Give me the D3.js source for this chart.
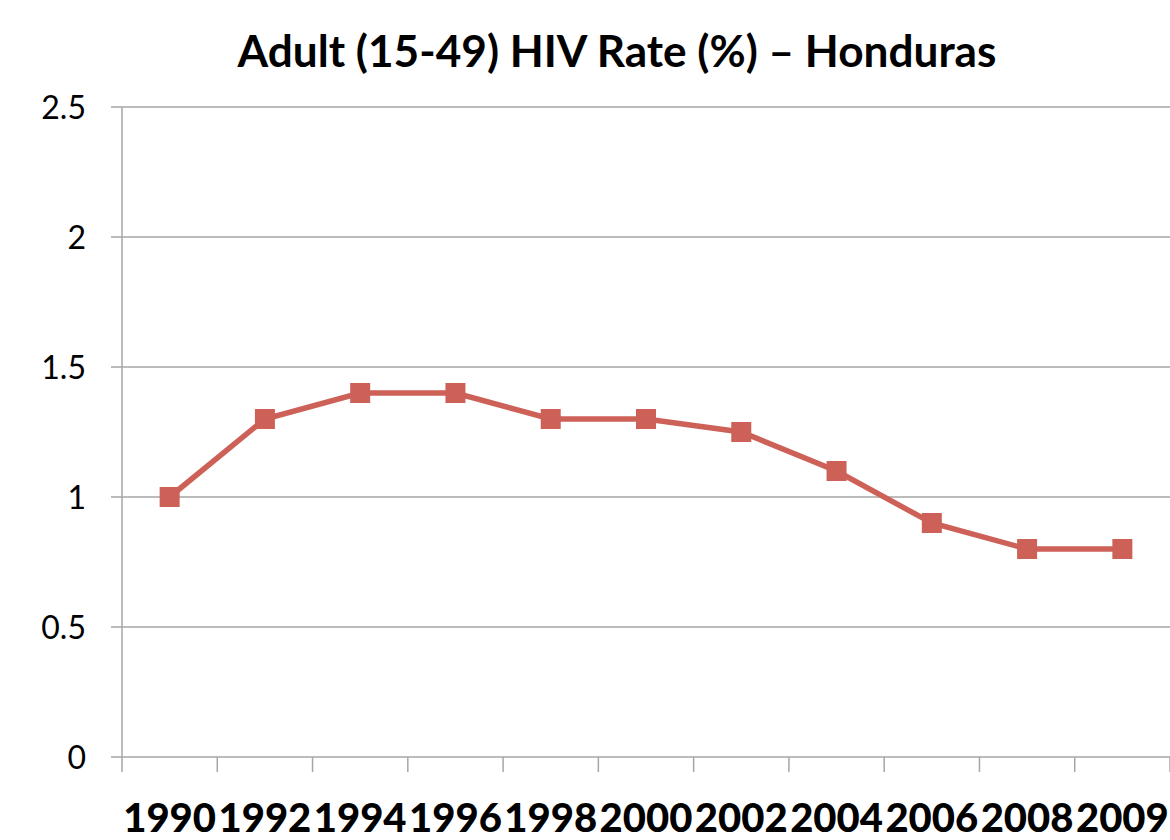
<!DOCTYPE html>
<html>
<head>
<meta charset="utf-8">
<script src="https://cdnjs.cloudflare.com/ajax/libs/d3/7.8.5/d3.min.js"></script>
<style>
  body { margin: 0; background: #fff; }
  svg { display: block; font-family: Lato, "Open Sans", sans-serif; }
</style>
</head>
<body>
<div id="chart"></div>
<script>
// data
var years = ["1990", "1992", "1994", "1996", "1998", "2000", "2002", "2004", "2006", "2008", "2009"];
var rates = [1.0, 1.3, 1.4, 1.4, 1.3, 1.3, 1.25, 1.1, 0.9, 0.8, 0.8];
var yTicks = [0, 0.5, 1, 1.5, 2, 2.5];

var data = years.map(function(y, i) { return {year: y, value: rates[i]}; });

var margin = {top: 107, right: 0, bottom: 83, left: 122},
    width = 1170 - margin.left - margin.right,
    height = 840 - margin.top - margin.bottom;

var svg = d3.select("#chart")
  .append("svg")
    .attr("width", 1170)
    .attr("height", 840)
  .append("g")
    .attr("transform", "translate(" + margin.left + "," + margin.top + ")");

var x = d3.scaleBand()
  .domain(years)
  .range([0, width]);

var y = d3.scaleLinear()
  .domain([0, 2.5])
  .range([height, 0]);

// gridlines + y ticks
svg.append("g")
  .selectAll("line")
  .data(yTicks)
  .join("line")
    .attr("x1", -11)
    .attr("x2", width)
    .attr("y1", function(d) { return y(d); })
    .attr("y2", function(d) { return y(d); })
    .attr("stroke", "#a6a6a6")
    .attr("stroke-width", 1.5);

svg.append("g")
  .selectAll("text")
  .data(yTicks)
  .join("text")
    .attr("x", -36)
    .attr("y", function(d) { return y(d); })
    .attr("dy", "0.36em")
    .attr("text-anchor", "end")
    .style("font-size", "32px")
    .attr("fill", "#000")
    .text(function(d) { return d; });

// y axis line
svg.append("line")
  .attr("x1", 0).attr("x2", 0)
  .attr("y1", 0).attr("y2", height + 15)
  .attr("stroke", "#a6a6a6")
  .attr("stroke-width", 1.5);

// x tick marks at band edges
var edges = years.map(function(d) { return x(d); }).concat([x.range()[1]]);
svg.append("g")
  .selectAll("line")
  .data(edges.slice(1))
  .join("line")
    .attr("x1", function(d) { return d; })
    .attr("x2", function(d) { return d; })
    .attr("y1", height)
    .attr("y2", height + 15)
    .attr("stroke", "#a6a6a6")
    .attr("stroke-width", 1.5);

// x labels
svg.append("g")
  .selectAll("text")
  .data(years)
  .join("text")
    .attr("x", function(d) { return x(d) + x.bandwidth() / 2; })
    .attr("y", height + 75)
    .attr("text-anchor", "middle")
    .style("font-size", "40px")
    .style("font-weight", "900")
    .attr("fill", "#000")
    .text(function(d) { return d; });

// line
svg.append("path")
  .datum(data)
  .attr("fill", "none")
  .attr("stroke", "#cd6158")
  .attr("stroke-width", 5.5)
  .attr("d", d3.line()
    .x(function(d) { return x(d.year) + x.bandwidth() / 2; })
    .y(function(d) { return y(d.value); }));

svg.append("g")
  .selectAll("rect")
  .data(data)
  .join("rect")
    .attr("x", function(d) { return x(d.year) + x.bandwidth() / 2 - 10; })
    .attr("y", function(d) { return y(d.value) - 10; })
    .attr("width", 20)
    .attr("height", 20)
    .attr("fill", "#cd6158");

// title
var title = d3.select("svg").append("text")
  .attr("x", 617)
  .attr("y", 67)
  .attr("text-anchor", "middle")
  .style("font-size", "36px")
  .style("font-weight", "bold")
  .text("Adult (15-49) HIV Rate (%) – Honduras");
var tw = title.node().getComputedTextLength();
title.style("font-size", (36 * 759 / tw) + "px");
</script>
</body>
</html>
